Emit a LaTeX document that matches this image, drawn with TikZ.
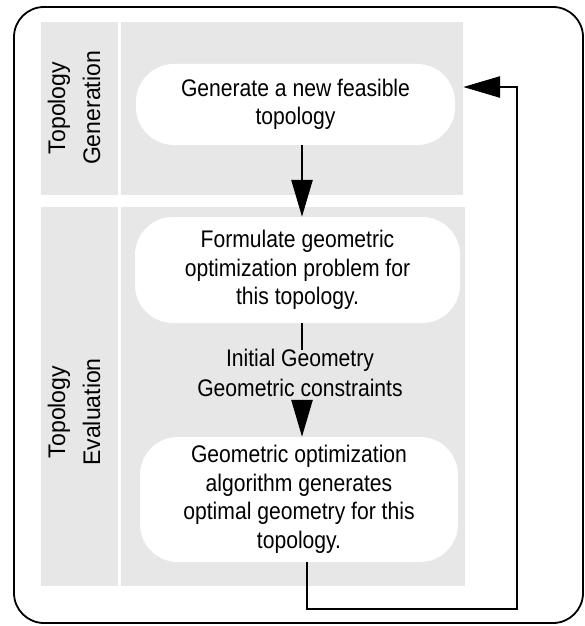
\documentclass[tikz,border=0pt]{standalone}
\usepackage{fontspec}
\setmainfont[FakeStretch=0.88]{Liberation Sans}
\newfontfamily\lanefont[FakeStretch=0.96]{Liberation Sans}
\usetikzlibrary{arrows.meta,calc}

\definecolor{panelgray}{gray}{0.905}

\tikzset{
  panel/.style={fill=panelgray, draw=none},
  lanelabel/.style={rotate=90, align=center, inner sep=0pt,
    font=\lanefont\fontsize{24}{35}\selectfont},
  stepbox/.style={fill=white, draw=none, rounded corners=38pt,
    align=center, inner sep=0pt,
    font=\fontsize{24}{28.5}\selectfont},
  flow/.style={line width=2.7pt,
    -{Triangle[length=37pt,width=21pt]}},
  plain/.style={line width=2.7pt},
}

\begin{document}
\begin{tikzpicture}[x=1pt,y=-1pt]
  \useasboundingbox (0,0) rectangle (585,626);

  % outer frame
  \draw[line width=1.8pt, rounded corners=30pt] (14,7) rectangle (583,623);

  % swim-lane panels
  \fill[panel] (41,22) rectangle (118,195);
  \fill[panel] (121,22) rectangle (463,195);
  \fill[panel] (41,207) rectangle (118,586);
  \fill[panel] (121,207) rectangle (465,586);

  \node[lanelabel] (lgen) at (74,108) {Topology\\Generation};
  \node[lanelabel] (leval) at (74,412) {Topology\\Evaluation};

  % process steps
  \node[stepbox, minimum width=319pt, minimum height=81pt] (gen) at (295.5,104.5)
    {Generate a new feasible\\topology};
  \node[stepbox, minimum width=325pt, minimum height=106pt] (form) at (297.5,270)
    {Formulate geometric\\optimization problem for\\this topology.};
  \node[stepbox, minimum width=318pt, minimum height=125pt] (opt) at (299,499.5)
    {Geometric optimization\\algorithm generates\\optimal geometry for this\\topology.};

  % data passed between formulation and optimisation
  \node[align=center, inner sep=0pt, font=\fontsize{24}{30}\selectfont,
        minimum height=54pt] (data) at (300,372.5)
    {Initial Geometry\\Geometric constraints};

  % connectors
  \coordinate (ax) at (302,0);
  \coordinate (lx) at (307,0);
  \coordinate (ret) at (517,87);
  \coordinate (bot) at (517,609);

  \draw[flow] (gen.south -| ax) -- (form.north -| ax);
  \draw[plain] (form.south -| ax) -- ([yshift=-5pt]data.north -| ax);
  \draw[flow] (data.south -| ax) -- (opt.north -| ax);
  \draw[flow, shorten >=8pt] (opt.south -| lx) -- (lx |- bot) -- (bot)
    -- (ret) -- (gen.east |- ret);
\end{tikzpicture}
\end{document}
